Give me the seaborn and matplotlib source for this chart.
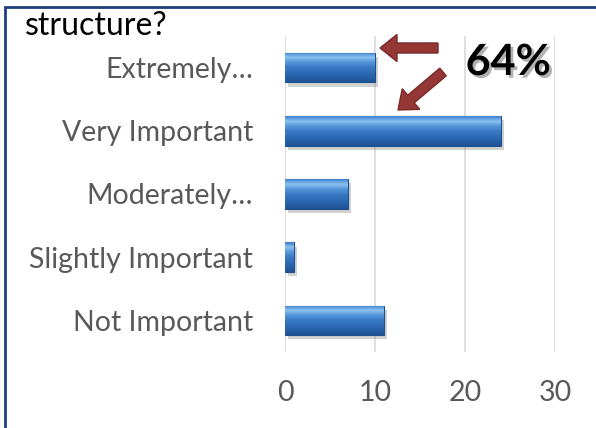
import numpy as np
import pandas as pd
import matplotlib
matplotlib.use("Agg")
import matplotlib.pyplot as plt
import seaborn as sns
from matplotlib.patches import FancyArrow, Rectangle
from matplotlib.transforms import IdentityTransform
from matplotlib.colors import LinearSegmentedColormap
import matplotlib.patheffects as pe

categories = ["Extremely…", "Very Important", "Moderately…", "Slightly Important", "Not Important"]
values = [10, 24, 7, 1, 11]
x_ticks = [0, 10, 20, 30]
title_text = "structure?"
callout_text = "64%"

sns.set_style("white")
plt.rcParams['font.family'] = ['Lato', 'DejaVu Sans']

W, H = 596, 428
fig = plt.figure(figsize=(W / 100, H / 100), dpi=100)
fig.patch.set_facecolor("white")
ax = fig.add_axes([285 / W, (H - 352) / H, 270 / W, 316 / H])

df = pd.DataFrame({"category": categories, "value": values})
sns.barplot(data=df, x="value", y="category", orient="h", color="#3A78C2",
            width=0.47, edgecolor="#1F4E8C", linewidth=0.8, ax=ax, zorder=3)

# glossy gradient on each bar (top -> bottom), clipped to the bar
grad = np.linspace(0, 1, 64).reshape(-1, 1)
cmap = LinearSegmentedColormap.from_list(
    "bev", ["#3F80CC", "#8CC2F0", "#5595DA", "#3A7BC6", "#2F6DB7", "#2660A8", "#1F5394"])
for p in list(ax.patches):
    x0, y0 = p.get_x(), p.get_y()
    w, h = p.get_width(), p.get_height()
    p.set_path_effects([pe.SimplePatchShadow(offset=(2, -3), shadow_rgbFace="#808080", alpha=0.35), pe.Normal()])
    im = ax.imshow(grad, extent=(x0, x0 + w, y0 + h, y0), aspect="auto", cmap=cmap,
                   origin="upper", zorder=4, interpolation="bilinear")
    im.set_clip_path(p)

ax.set_xlim(0, 30)
ax.set_ylim(len(categories) - 0.5, -0.5)
ax.set_xticks(x_ticks)
ax.set_xticklabels([str(t) for t in x_ticks])
ax.xaxis.grid(True, color="#D9D9D9", linewidth=1.2, zorder=0)
ax.yaxis.grid(False)
for s in ax.spines.values():
    s.set_visible(False)
ax.set_xlabel("")
ax.set_ylabel("")
ax.tick_params(axis="y", length=0, pad=23, labelsize=20.5, labelcolor="#595959")
ax.tick_params(axis="x", length=0, pad=20, labelsize=20.5, labelcolor="#595959")

fig.text(25 / W, 1 - 26 / H, title_text, fontsize=23, color="black", va="center", ha="left")

t = fig.text(508 / W, 1 - 62 / H, callout_text, fontsize=31, fontweight="bold", color="black",
             va="center", ha="center")
t.set_path_effects([pe.withSimplePatchShadow(offset=(2, -2), shadow_rgbFace="#7F7F7F", alpha=0.6)])

# arrows (pixel coords, y from bottom)
arrow_kw = dict(width=10, head_width=27, head_length=17, length_includes_head=True,
                facecolor="#953735", edgecolor="#7A2A28", linewidth=1,
                transform=IdentityTransform(), zorder=10)
fig.patches.append(FancyArrow(438, H - 48, -58, 0, **arrow_kw))
fig.patches.append(FancyArrow(443, H - 72, -45, -38, **arrow_kw))

# border (top and left visible)
fig.patches.append(Rectangle((5, -10), 600, H - 7 + 10, fill=False, edgecolor="#1F3F7F",
                             linewidth=2, transform=IdentityTransform(), zorder=20))

fig.savefig("out.png", dpi=100)
